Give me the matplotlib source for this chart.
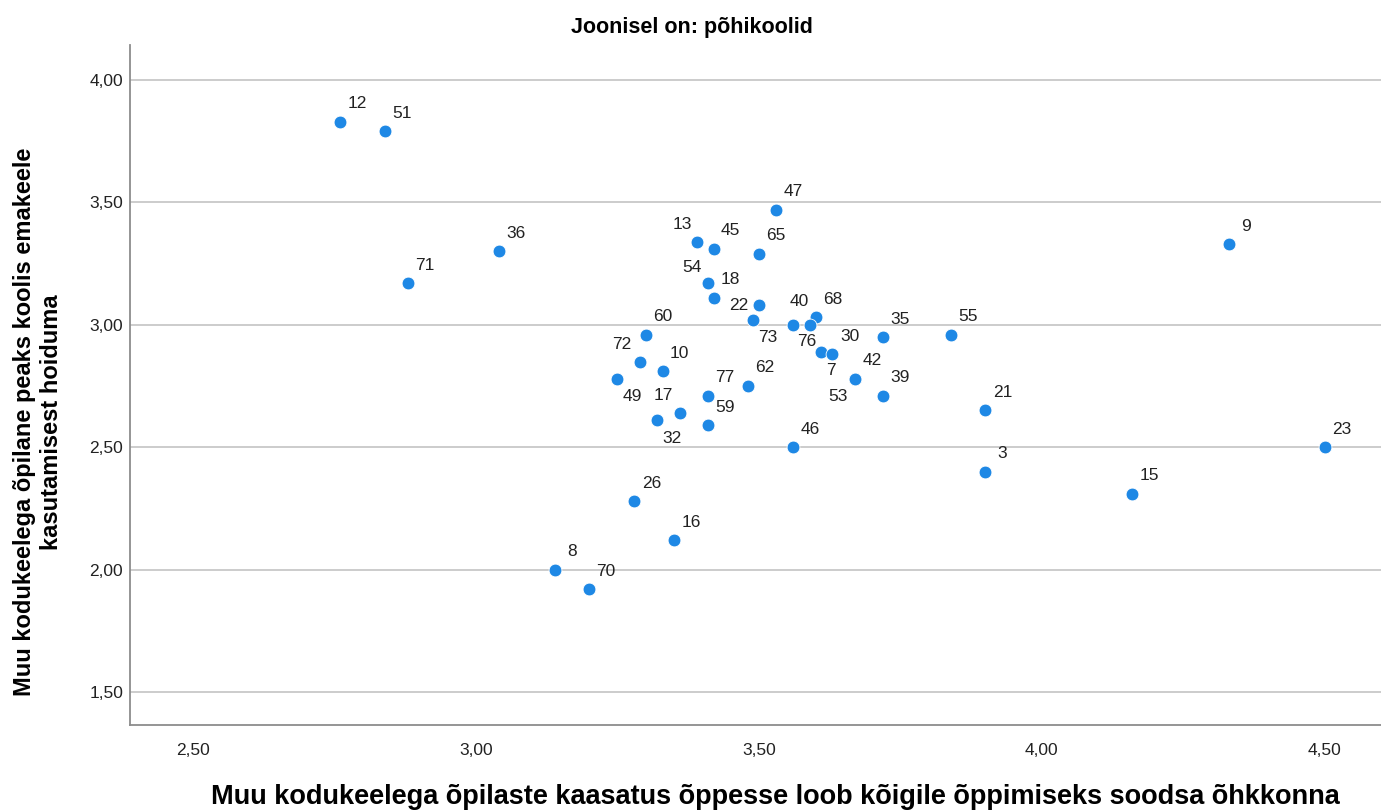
import matplotlib.pyplot as plt

plt.rcParams['font.family'] = ['Liberation Sans', 'DejaVu Sans']

# school id, x = inclusion creates good climate, y = should avoid mother tongue
ids = ['12', '51', '36', '71', '47', '13', '45', '65', '54', '18', '22', '73',
       '40', '68', '76', '7', '30', '60', '72', '10', '49', '17', '32', '77',
       '59', '62', '46', '42', '53', '39', '35', '55', '21', '3', '23', '9',
       '15', '26', '16', '8', '70']
x_vals = [2.76, 2.84, 3.04, 2.88, 3.53, 3.39, 3.42, 3.50, 3.41, 3.42, 3.50, 3.49,
          3.56, 3.60, 3.59, 3.61, 3.63, 3.30, 3.29, 3.33, 3.25, 3.36, 3.32, 3.41,
          3.41, 3.48, 3.56, 3.67, 3.67, 3.72, 3.72, 3.84, 3.90, 3.90, 4.50, 4.33,
          4.16, 3.28, 3.35, 3.14, 3.20]
y_vals = [3.83, 3.79, 3.30, 3.17, 3.47, 3.34, 3.31, 3.29, 3.17, 3.11, 3.08, 3.02,
          3.00, 3.03, 3.00, 2.89, 2.88, 2.96, 2.85, 2.81, 2.78, 2.64, 2.61, 2.71,
          2.59, 2.75, 2.50, 2.78, 2.78, 2.71, 2.95, 2.96, 2.65, 2.40, 2.50, 3.33,
          2.31, 2.28, 2.12, 2.00, 1.92]

x_ticks = [2.5, 3.0, 3.5, 4.0, 4.5]
y_ticks = [1.5, 2.0, 2.5, 3.0, 3.5, 4.0]

# label placement (pixels from the dot), default is upper right
label_pos = {'13': (-14, 17), '54': (-16, 16), '22': (-20, 0), '73': (15, -18),
             '40': (6, 23), '76': (-3, -17), '7': (10, -19), '72': (-18, 17),
             '49': (15, -18), '17': (-16, 17), '32': (15, -18), '53': (-17, -18)}

fig = plt.figure(figsize=(13.81, 8.11), dpi=100)
ax = fig.add_axes([130 / 1381, 1 - 725 / 811, 1 - 130 / 1381, (725 - 45) / 811])

ax.scatter(x_vals, y_vals, s=85, color='#1e88e5', edgecolor='white',
           linewidth=0.6, zorder=3)
for name, xv, yv in zip(ids, x_vals, y_vals):
    off = label_pos.get(name, (17, 18))
    ax.annotate(name, (xv, yv), xytext=off, textcoords='offset pixels',
                ha='center', va='center', fontsize=12.5, color='#222222')

ax.set_xlim(2.389, 4.599)
ax.set_ylim(1.365, 4.143)
ax.set_xticks(x_ticks)
ax.set_yticks(y_ticks)
ax.set_xticklabels([f'{v:.2f}'.replace('.', ',') for v in x_ticks])
ax.set_yticklabels([f'{v:.2f}'.replace('.', ',') for v in y_ticks])
ax.tick_params(length=0, labelsize=12.5, colors='#222222')
ax.tick_params(axis='x', pad=13)
ax.tick_params(axis='y', pad=5)
ax.grid(axis='y', color='#c8c8c8', linewidth=1.3)
ax.set_axisbelow(True)
for s in ['top', 'right']:
    ax.spines[s].set_visible(False)
for s in ['left', 'bottom']:
    ax.spines[s].set_color('#8c8c8c')
    ax.spines[s].set_linewidth(1.3)

fig.text(692 / 1381, 1 - 28 / 811, 'Joonisel on: põhikoolid', ha='center',
         va='center', fontsize=15.5, fontweight='bold')
fig.text(775 / 1381, 1 - 797 / 811,
         'Muu kodukeelega õpilaste kaasatus õppesse loob kõigile õppimiseks soodsa õhkkonna',
         ha='center', va='center', fontsize=19.5, fontweight='bold')
fig.text(38 / 1381, 1 - 422 / 811,
         'Muu kodukeelega õpilane peaks koolis emakeele\nkasutamisest hoiduma',
         ha='center', va='center', rotation=90, fontsize=17, fontweight='bold',
         linespacing=1.2)

fig.savefig('out.png', dpi=100)
